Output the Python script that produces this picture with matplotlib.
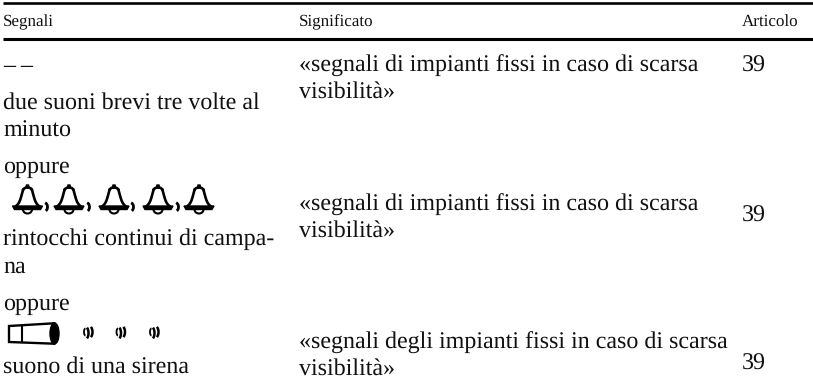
import numpy as np
import matplotlib.pyplot as plt
from matplotlib.patches import Ellipse, Polygon, Arc

plt.rcParams['font.family'] = ['Liberation Serif', 'DejaVu Sans']
plt.rcParams['text.hinting'] = 'none'
plt.rcParams['text.hinting_factor'] = 1

headers = ['Segnali', 'Significato', 'Articolo']
col_x = [3, 299, 742]

# (text, x, baseline y)
segnali = [('– –', 3, 72), ('due suoni brevi tre volte al', 3, 109), ('minuto', 3, 137),
           ('oppure', 3, 172.5), ('rintocchi continui di campa-', 3, 245), ('na', 3, 272.5),
           ('oppure', 3, 310), ('suono di una sirena', 3, 373)]
significato = [('«segnali di impianti fissi in caso di scarsa', 299, 72), ('visibilità»', 299, 98),
               ('«segnali di impianti fissi in caso di scarsa', 299, 211), ('visibilità»', 299, 237),
               ('«segnali degli impianti fissi in caso di scarsa', 299, 349), ('visibilità»', 299, 375)]
articoli = [('39', 742, 72), ('39', 742, 222), ('39', 742, 370)]
bell_x = [27.5, 69, 114, 158, 199]
comma_x = [45, 87, 131, 176]
wave_x = [88.5, 121, 154.5]

W, H = 813, 390
fig = plt.figure(figsize=(W / 100, H / 100), dpi=100)
ax = fig.add_axes([0, 0, 1, 1])
ax.set_xlim(0, W)
ax.set_ylim(H, 0)
ax.axis('off')

ax.plot([3, 813], [3.2, 3.2], color='k', lw=1.9, solid_capstyle='butt')
ax.plot([3, 813], [38.5, 38.5], color='k', lw=2.2, solid_capstyle='butt')

for t, x in zip(headers, col_x):
    ax.text(x, 26, t, fontsize=12.6, va='baseline', ha='left', color='#111111')
for t, x, y in segnali + significato + articoli:
    ax.text(x, y, t, fontsize=17.2, va='baseline', ha='left', color='#111111')


def bell(cx):
    # body from y=189 down to rim at y=207
    t = np.linspace(0, 1, 30)
    half = 4.5 + 4.5 * t + 3 * t**6
    ys = 190 + 16.5 * t
    ax.plot(cx - half, ys, color='k', lw=1.9)
    ax.plot(cx + half, ys, color='k', lw=1.9)
    ax.add_patch(Arc((cx, 190.5), 9, 6, theta1=180, theta2=360, color='k', lw=1.9))
    ax.add_patch(Polygon([(cx - 1.8, 188), (cx + 1.8, 188), (cx + 1, 185), (cx - 1, 185)], color='k'))
    ax.add_patch(Polygon([(cx - 15, 206), (cx + 15, 206), (cx + 13, 209.5), (cx - 13, 209.5)], color='k'))
    ax.add_patch(Arc((cx, 209.5), 9, 8, theta1=0, theta2=180, color='k', lw=1.5))


for cx in bell_x:
    bell(cx)
for cx in comma_x:
    ax.add_patch(Arc((cx - 1, 207), 7, 9, theta1=-75, theta2=65, color='k', lw=2.0))

# sirena
ax.add_patch(Polygon([(9, 326), (54, 323.3), (54, 343.7), (9, 342)], fill=False, ec='k', lw=1.7))
ax.plot([22, 22], [326, 342], color='k', lw=1.5)
ax.add_patch(Ellipse((54.5, 333.5), 9, 21, color='k'))
for x0 in wave_x:
    ax.add_patch(Arc((x0 - 3, 332), 3, 7, theta1=90, theta2=270, color='k', lw=1.3))
    ax.add_patch(Arc((x0 - 3.5, 333), 7, 13, theta1=-70, theta2=70, color='k', lw=1.8))
    ax.add_patch(Arc((x0 + 0.5, 332), 7, 12, theta1=-70, theta2=70, color='k', lw=1.8))

fig.savefig('out.png', dpi=100)
